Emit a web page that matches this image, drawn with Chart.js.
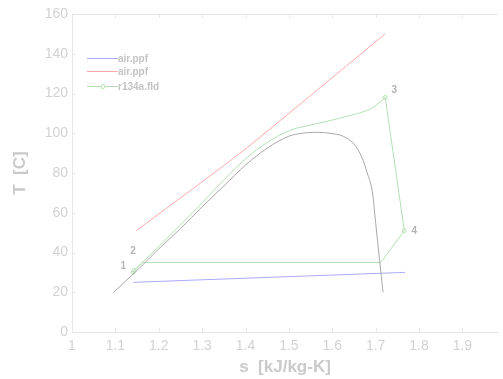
<!DOCTYPE html>
<html>
<head>
<meta charset="utf-8">
<script src="https://cdn.jsdelivr.net/npm/chart.js@4.4.1/dist/chart.umd.min.js"></script>
<style>
  html, body { margin: 0; padding: 0; background: #fff; overflow: hidden; }
  #wrap { width: 503px; height: 379px; }
</style>
</head>
<body>
<div id="wrap"><canvas id="grafico"></canvas></div>
<script>
// eixos
const xTicks = [1, 1.1, 1.2, 1.3, 1.4, 1.5, 1.6, 1.7, 1.8, 1.9];
const yTicks = [0, 20, 40, 60, 80, 100, 120, 140, 160];

// air.ppf (azul)
const arAzulS = [1.141, 1.768];
const arAzulT = [25, 30];

// air.ppf (vermelho)
const arVermS = [1.148, 1.278, 1.405, 1.5, 1.6, 1.722];
const arVermT = [51, 72, 93, 110, 128, 150];

// r134a.fld: aquecimento 2 -> 3
const aquecS = [1.143, 1.2, 1.3, 1.35, 1.405, 1.451, 1.503, 1.558, 1.633, 1.694, 1.722];
const aquecT = [31, 43, 65, 76.5, 88, 95.5, 101.5, 104.5, 108.5, 113, 118];

// r134a.fld: 3 -> 4 -> condensação -> 1 -> 2
const restoS = [1.722, 1.766, 1.712, 1.162, 1.141, 1.143];
const restoT = [118, 51, 35, 35, 30, 31];

// pontos de estado
const estadoS = [1.141, 1.143, 1.722, 1.766];
const estadoT = [30, 31, 118, 51];
const estadoNomes = ["1", "2", "3", "4"];
const estadoOffset = [[-10, -6], [-1, -19], [9, -7], [10, 1]];

// curva de saturação
const cupulaS = [1.096, 1.15, 1.2, 1.25, 1.3, 1.35, 1.4, 1.45, 1.5, 1.53, 1.563, 1.6, 1.625, 1.65, 1.668, 1.682, 1.692, 1.700, 1.709, 1.717];
const cupulaT = [20, 31, 41.8, 52, 63, 73.5, 84, 92.5, 98.5, 100, 100.5, 99.8, 98.5, 94.5, 88, 79, 71, 55, 36, 20];

const legenda = [
  { nome: "air.ppf", cor: "#aaaaff", marca: false },
  { nome: "air.ppf", cor: "#ffaaaa", marca: false },
  { nome: "r134a.fld", cor: "#b4e0b4", marca: true }
];

const pontos = (s, t) => s.map((v, i) => ({ x: v, y: t[i] }));

const cinzaEixo = "#e6e6e6";

const extras = {
  id: "extras",
  afterDraw(chart) {
    const ctx = chart.ctx;
    const { left, right, top, bottom } = chart.chartArea;
    const sx = chart.scales.x, sy = chart.scales.y;
    ctx.save();
    // borda superior
    ctx.strokeStyle = cinzaEixo;
    ctx.lineWidth = 1;
    ctx.beginPath();
    ctx.moveTo(left, top + 0.5);
    ctx.lineTo(right, top + 0.5);
    ctx.stroke();
    // marcas internas
    ctx.beginPath();
    xTicks.forEach(v => {
      const px = Math.round(sx.getPixelForValue(v)) + 0.5;
      ctx.moveTo(px, bottom); ctx.lineTo(px, bottom - 4);
      ctx.moveTo(px, top); ctx.lineTo(px, top + 4);
    });
    yTicks.forEach(v => {
      const py = Math.round(sy.getPixelForValue(v)) + 0.5;
      ctx.moveTo(left, py); ctx.lineTo(left + 3, py);
    });
    ctx.stroke();

    // legenda
    ctx.font = "bold 10px 'Liberation Sans', Arial, sans-serif";
    ctx.textBaseline = "middle";
    const ys = [58, 71, 86];
    legenda.forEach((l, i) => {
      ctx.fillStyle = l.cor;
      ctx.fillRect(87, ys[i], 31, 1);
      if (l.marca) {
        ctx.strokeStyle = l.cor;
        ctx.fillStyle = "#fff";
        ctx.beginPath();
        ctx.arc(103, ys[i] + 0.5, 2, 0, Math.PI * 2);
        ctx.fill();
        ctx.stroke();
      }
      ctx.fillStyle = "#c4c4c4";
      ctx.fillText(l.nome, 118, ys[i] + 1);
    });

    // rótulos dos estados
    ctx.fillStyle = "#b4b4b4";
    ctx.textAlign = "center";
    estadoNomes.forEach((n, i) => {
      const px = sx.getPixelForValue(estadoS[i]) + estadoOffset[i][0];
      const py = sy.getPixelForValue(estadoT[i]) + estadoOffset[i][1];
      ctx.fillText(n, px, py);
    });
    ctx.restore();
  }
};

const fonteTick = { family: "'Liberation Sans', Arial, sans-serif", size: 14 };
const fonteTitulo = { family: "'Liberation Sans', Arial, sans-serif", size: 17, weight: "bold" };

const suave = { showLine: true, borderWidth: 1, pointRadius: 0, cubicInterpolationMode: "monotone" };

new Chart(document.getElementById("grafico"), {
  type: "scatter",
  data: {
    datasets: [
      { ...suave, data: pontos(cupulaS, cupulaT), borderColor: "#a8a8a8" },
      { ...suave, data: pontos(arAzulS, arAzulT), borderColor: legenda[0].cor },
      { ...suave, data: pontos(arVermS, arVermT), borderColor: legenda[1].cor },
      { ...suave, data: pontos(aquecS, aquecT), borderColor: legenda[2].cor },
      { data: pontos(restoS, restoT), showLine: true, borderColor: legenda[2].cor, borderWidth: 1, pointRadius: 0 },
      { data: pontos(estadoS, estadoT), showLine: false, borderColor: legenda[2].cor, backgroundColor: "#fff", borderWidth: 1, pointRadius: 2 }
    ]
  },
  options: {
    responsive: true,
    maintainAspectRatio: false,
    animation: false,
    layout: { padding: { top: 14, right: 0, left: 0, bottom: 0 } },
    plugins: { legend: { display: false }, tooltip: { enabled: false } },
    scales: {
      x: {
        type: "linear",
        min: 1,
        max: 1.982,
        afterBuildTicks: s => { s.ticks = xTicks.map(v => ({ value: v })); },
        afterFit: s => { s.height = 47; },
        ticks: { color: "#d2d2d2", font: fonteTick, padding: 6, maxRotation: 0, callback: v => String(Math.round(v * 10) / 10) },
        grid: { drawOnChartArea: false, drawTicks: false },
        border: { color: cinzaEixo },
        title: { display: true, text: "s  [kJ/kg-K]", color: "#cacaca", font: fonteTitulo, padding: { top: 0, bottom: 1 } }
      },
      y: {
        min: 0,
        max: 160,
        afterBuildTicks: s => { s.ticks = yTicks.map(v => ({ value: v })); },
        afterFit: s => { s.width = 72; },
        ticks: { color: "#d2d2d2", font: fonteTick, padding: 4 },
        grid: { drawOnChartArea: false, drawTicks: false },
        border: { color: cinzaEixo },
        title: { display: true, text: "T  [C]", color: "#cacaca", font: fonteTitulo, padding: { top: 10, bottom: 0 } }
      }
    }
  },
  plugins: [extras]
});
</script>
</body>
</html>
